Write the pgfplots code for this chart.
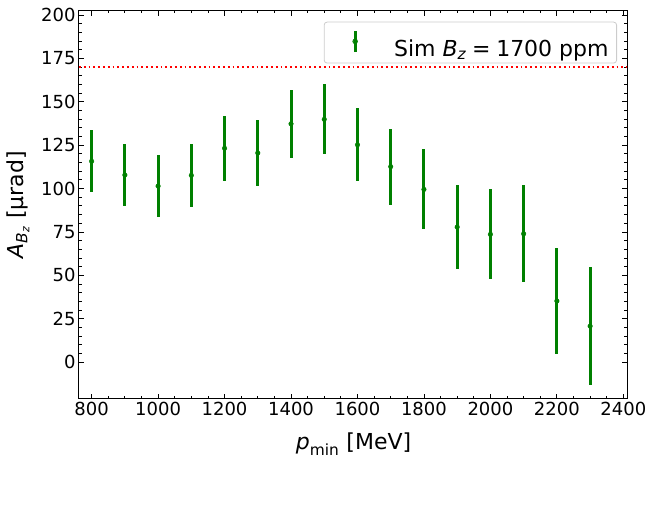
\documentclass[border=0pt]{standalone}
\usepackage{fontspec}
\setmainfont{DejaVu Sans}
\usepackage{amsmath}
\usepackage{pgfplots}
\usepackage{pgfplotstable}
\pgfplotsset{compat=1.18}
\definecolor{mplgreen}{HTML}{008000}
\definecolor{legendedge}{HTML}{CCCCCC}

\pgfplotstableread{
x y e
800 115.7 17.8
900 107.8 17.9
1000 101.4 18.0
1100 107.6 18.2
1200 123.2 18.8
1300 120.5 19.0
1400 137.3 19.5
1500 139.9 20.2
1600 125.2 21.0
1700 112.6 22.0
1800 99.5 23.0
1900 77.8 24.4
2000 73.6 26.0
2100 73.9 28.0
2200 35.2 30.5
2300 20.7 33.8
}\datatable

\begin{document}
\begin{tikzpicture}
\useasboundingbox (-79pt,-125pt) rectangle (567pt,399pt);
\begin{axis}[
  at={(0pt,0pt)}, anchor=south west,
  scale only axis, width=548pt, height=388.3pt,
  xmin=762, xmax=2411, ymin=-21.3, ymax=202.5,
  xtick={800,1000,...,2400}, ytick={0,25,...,200},
  minor x tick num=3, minor y tick num=4,
  tick align=inside, tick pos=both,
  major tick length=5pt, minor tick length=2.8pt,
  every tick/.style={black, line width=0.8pt},
  axis line style={line width=1pt, black},
  tick label style={font=\fontsize{18}{21}\selectfont},
  /pgf/number format/assume math mode=true,
  /pgf/number format/1000 sep={},
  label style={font=\fontsize{22}{26}\selectfont},
  xlabel={$\text{\itshape p}_{\text{min}}$ [MeV]},
  xlabel style={at={(axis description cs:0.501,-0.1313)}, anchor=base},
  ylabel={$\text{\itshape A}_{\text{\itshape B}_{\text{\itshape z}}}$ [µrad]},
  ylabel style={at={(axis description cs:-0.1113,0.5)}, anchor=center},
  legend style={at={(axis description cs:0.9818,0.9717)}, anchor=north east,
    draw=legendedge, line width=0.8pt, rounded corners=3pt, fill=white, fill opacity=0.8, text opacity=1,
    font=\fontsize{22}{25}\selectfont, inner xsep=0pt, inner ysep=0pt,
    nodes={inner sep=0pt}, column sep=0pt},
]
\addplot[red, line width=2pt, dash pattern=on 1.9pt off 2.9pt, forget plot]
  coordinates {(762,170) (2411,170)};
\addplot[mplgreen, only marks, mark=*, mark size=2.3pt,
  error bars/.cd, y dir=both, y explicit, error mark=none,
  error bar style={line width=3pt, mplgreen},
  /pgfplots/legend image code/.code={
    \path[draw=none, fill=none] (0pt,-14.2pt) rectangle (70pt,26.8pt);
    \draw[mplgreen, line width=3pt] (31pt,-3.3pt) -- (31pt,18.3pt);
    \fill[mplgreen] (31pt,7.5pt) circle (2.3pt);}]
  table[x=x, y=y, y error=e] {\datatable};
\addlegendentry{Sim $\text{\itshape B}_{\text{\itshape z}}\mathrel{\text{=}}\text{1700}$ ppm\rule{8pt}{0pt}}
\end{axis}
\end{tikzpicture}
\end{document}
